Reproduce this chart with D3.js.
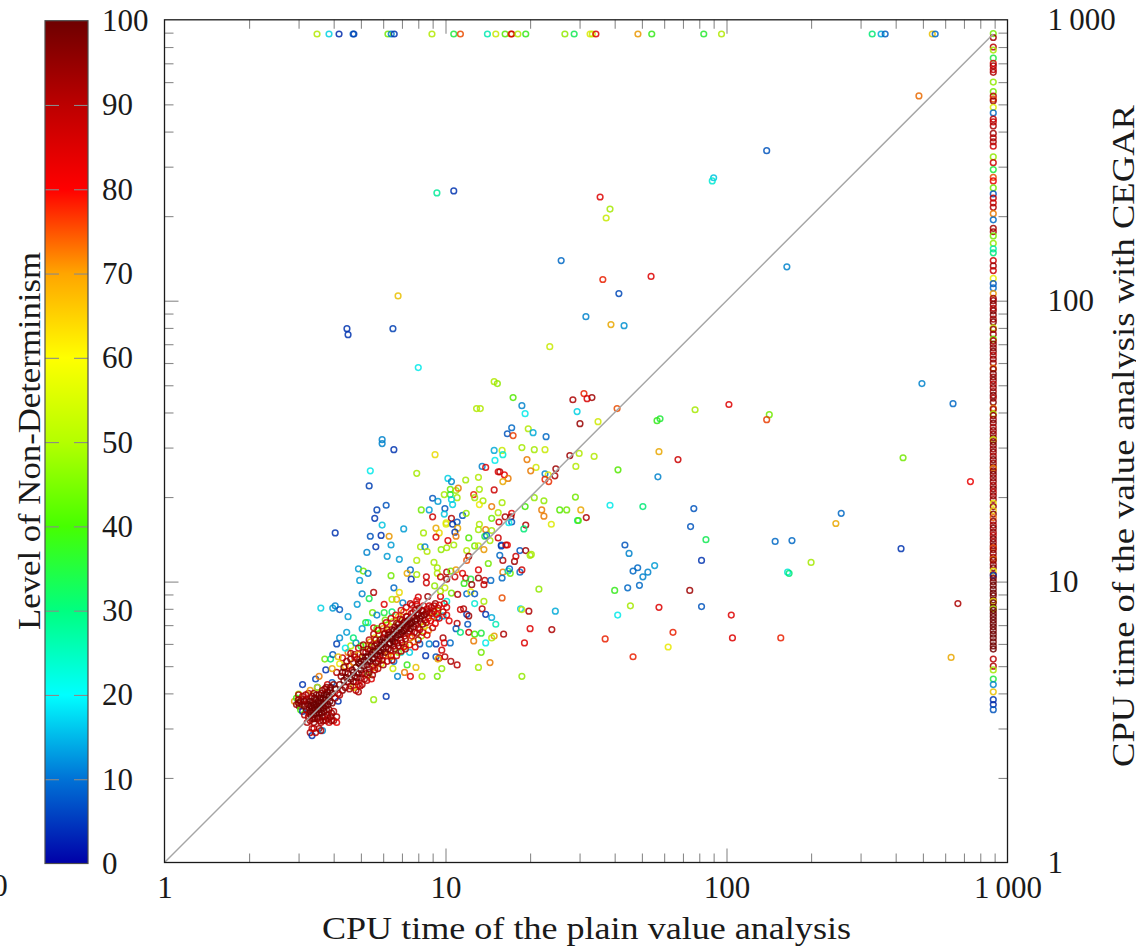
<!DOCTYPE html>
<html><head><meta charset="utf-8">
<script src="https://cdnjs.cloudflare.com/ajax/libs/d3/7.8.5/d3.min.js"></script>
<style>html,body{margin:0;padding:0;background:#fff;overflow:hidden}
svg{display:block}
text{font-family:"Liberation Serif",serif;fill:#1a1a1a}
</style></head><body><svg id="c" width="1136" height="948"></svg>
<script>
const plainTicks=[1,10,100,1000];
const cegarTicks=[1,10,100,1000];
const levelTicks=[0,10,20,30,40,50,60,70,80,90,100];
const colorStops=[0,10,20,30,40,50,60,70,80,90,100];
const colorValues=["#0000a8","#0072d6","#00ffff","#00ff80","#46ff00","#b4ff00","#ffff00","#ffa500","#ff0000","#bc0000","#6e0000"];
const xTitle="CPU time of the plain value analysis";
const yTitle="CPU time of the value analysis with CEGAR";
const barTitle="Level of Non-Determinism";
const timeoutValue=890;
// top row: [plain, level], CEGAR timed out
const topRow=[[3.49,52],[3.85,18],[4.18,4],[4.69,10],[4.72,6],[6.24,45],[6.41,12],[6.57,5],[8.95,52],[10.7,35],[11.3,75],[14.1,25],[15.1,55],[16.3,42],[17.1,72],[17.2,85],[18.1,52],[19.3,38],[26.6,48],[28.7,33],[32.7,58],[33.3,55],[34.3,82],[48.4,70],[54.2,38],[83,36],[96,52],[330,30],[355,15],[367,9],[540,65],[553,10]];
// right column: [cegar, level], plain timed out
const rightColumn=[[893,45],[865,92],[800,88],[780,50],[730,35],[700,82],[685,92],[665,85],[650,90],[600,48],[555,45],[535,88],[522,75],[515,92],[488,58],[466,10],[443,88],[433,85],[419,90],[394,92],[380,88],[368,92],[355,85],[325,48],[310,85],[293,35],[275,75],[267,80],[252,45],[240,8],[232,88],[223,85],[215,90],[204,72],[194,10],[181,92],[176,90],[170,45],[160,48],[153,25],[148,30],[139,85],[133,92],[128,85],[120,60],[115,8],[111,10],[106,70],[102,92],
[100,92],[97,96],[94,88],[92,94],[89,97],[86,90],[84,96],[80,55],[79,94],[76,92],[73,45],[72,90],[70,96],[68,92],[66,97],[64,88],[62,95],[60,92],[57.5,72],[57,94],[55,97],[53.5,92],[52,96],[50.5,88],[49,95],[47.5,92],[46,97],[45,90],[43.5,96],[41.5,72],[41,92],[39.5,50],[39,94],[37.8,92],[36.7,97],[35.5,90],[34.5,95],[33.5,92],[32.5,96],[32,55],[31.5,94],[30.6,97],[29.7,92],[28.9,95],[28,90],[27.2,97],[26.4,92],[25.6,96],[25.3,72],[24.8,94],[24.1,97],[23.4,92],[22.7,95],[22,90],[21.4,96],[20.8,88],[20.2,95],[19.6,92],[19,60],[18.5,94],[17.9,65],[17.4,96],[16.9,74],[16.4,94],[15.9,90],[15.5,96],[15,92],[14.6,88],[14.2,97],[13.8,92],[13.4,96],[13.2,75],[13,92],[12.6,95],[12.2,90],[12,72],[11.9,96],[11.5,92],[11.2,97],[10.9,60],[10.6,94],[10.5,6],[10.3,96],[10,97],[9.7,99],[9.4,98],[9.1,99],[8.9,97],[8.6,99],[8.5,60],[8.4,98],[8.1,99],[8,50],[7.9,99],[7.7,98],[7.5,99],[7.3,99],[7.1,98],[6.9,99],[6.7,98],[6.5,99],[6.3,99],[6.1,98],[5.9,99],[5.75,98],[5.3,88],[5,90],[4.85,50],[4.5,35],[4.3,12],[4.05,65],[3.8,5],[3.65,4],[3.5,8]];
const upperScatter=[[484,536,73],[139,342,8],[90,274,17],[89,267,22],[9.32,242,27],[10.7,246,5],[35.5,234,82],[38.5,212,50],[37.3,197,55],[25.8,139,10],[164,132,12],[53.9,122,82],[36.3,119,78],[41.4,106,7],[6.78,104,65],[31.6,87.7,12],[43.2,81.5,13],[38.8,82.2,68],[6.5,79.5,6],[4.46,79.5,5],[4.5,75.7,5],[23.5,68.6,55],[8,57.8,20],[14.9,51.5,52],[15.3,50.7,48],[496,50.7,12],[31.1,46.7,78],[33.2,45.2,92],[31.9,44.8,83],[28.4,44.4,90],[17.4,45.2,42],[18.7,42.3,12],[19.2,39.6,20],[29.4,40.3,18],[40.8,41.3,75],[34.9,37.1,56],[30.1,36.5,93],[77.3,40.9,50],[58,38,35],[56.6,37.4,38],[142,39.3,45],[139,37.7,76],[102,42.7,82],[12.9,41.3,52],[13.3,41.3,52],[17.2,35.3,10],[16.6,33.6,8],[17.4,33.1,76],[19.7,35,52],[20.5,33.9,15],[22.8,32.8,10],[9.18,28.3,62],[14.9,29.3,15],[15.9,29.3,55],[16,28.3,22],[15,27,20],[18.7,30,50],[20.7,29.5,50],[22.6,29.5,55],[19.5,27.2,72],[13.5,25.7,12],[13.9,25.5,82],[21,25.5,56],[20.1,24.8,72],[15.4,24.6,82],[15.6,24.6,88],[16.2,24,80],[16.7,23.3,72],[16,22.7,68],[22.6,24.2,12],[23.2,24,58],[24.7,25.2,92],[24.5,23.8,90],[22.6,23.1,78],[23.3,22.7,77],[27.7,28.1,92],[29.9,28.6,52],[33.8,27.9,52],[29.1,25.7,52],[41.1,25,42],[57.5,29,68],[67.2,27.2,85],[57,23.6,12]];
const lowerRightScatter=[[738,22.7,80],[418,13.1,5],[425,27.6,45],[640,43,10],[666,8.35,90],[630,5.37,68],[256,17.5,10],[245,16.1,68],[200,11.7,50],[165,10.8,22],[167,10.7,30],[171,14,10],[149,13.9,10],[104,7.6,82],[105,6.3,82],[156,6.3,78],[74,9.3,92],[81.5,8.15,8],[81.5,11.9,5],[76.5,18.2,8],[74.5,15.7,8],[84.5,14.1,33],[43.5,13.5,8],[45,12.6,12],[46.5,10.9,10],[48.3,11.2,10],[50.4,10.4,12],[52.5,10.8,12],[55.5,11.4,14],[49,9.7,10],[44.5,9.5,10],[40,9.3,38],[41,7.6,20],[45.5,8.2,50],[46.5,5.4,78],[64.5,6.6,78],[62,5.85,60],[57.5,8.1,82],[37,6.25,78],[29,20,45],[25.5,18,42],[27,18,45],[30.3,18,68],[31.7,16.9,90],[29.5,16.5,28],[29.7,16.5,42],[38.5,18.7,20],[50.4,18.5,30]];
const midScatter=[[5.95,32,12],[5.95,31,12],[6.55,29.5,5],[5.4,24.8,20],[7.9,24.3,50],[5.35,21.9,6],[6.15,18.7,8],[5.7,18,6],[5.6,16.8,5],[5.95,15.9,17],[7.1,15.4,14],[4.05,14.9,5],[5.4,14.5,8],[5.9,14.6,5],[6.3,14.5,70],[5.65,13.3,5],[6.4,13.5,14],[5.25,12.7,12],[6.2,12.3,14],[6.85,12,14],[4.9,11.1,14],[5.1,10.9,45],[5.3,10.7,12],[4.95,10.1,14],[5.05,9.05,12],[5.55,9.15,90],[5.35,8.7,33],[4.85,8.3,14],[3.6,8.05,18],[3.97,8.05,14],[4.05,8.2,12],[4.2,7.95,8],[4.5,7.5,14],[4.45,6.6,14],[4.2,6.3,13],[4.1,6,6],[5.05,6.8,14],[5.3,7.15,22],[5.2,7.15,35],[5.5,7.75,45],[5.7,7.6,12],[6.05,8.3,82],[6.05,7.75,35],[6.45,7.8,30],[6.55,9.5,10],[6.4,10.5,45],[6.85,9.15,62],[7.05,8.4,12],[6.7,8.65,68],[6.45,8.65,52],[7.6,8.25,85],[7.9,8.3,92],[7.5,11,10],[7.3,10.7,68],[7.55,10.2,5],[7.9,10.6,50],[7.9,11.9,52],[8.55,10.4,85],[8.55,9.9,85],[9.1,11.7,50],[9.35,11.2,50],[9.35,10.7,52],[9.6,10.4,85],[10.1,10.8,88],[10.1,10.2,92],[10.45,10.9,45],[10.9,11,70],[10.8,10.4,85],[11.5,10.7,82],[11.8,10.3,85],[11.65,9.85,38],[12.3,10.2,35],[12.4,9.75,92],[13.1,11,82],[13.1,10.3,92],[13.8,10.1,85],[13.7,9.75,88],[14.5,10.1,10],[16,10.8,72],[16.7,10.9,25],[15.9,10.3,10],[17,10.7,45],[18.4,10.8,10],[18.7,11,85],[16.9,11.1,10],[17.6,11.8,92],[17.8,12.3,85],[16,11.9,90],[14.2,11.6,45],[8.15,13.3,50],[8.45,13.3,12],[8.6,12.8,52],[9.65,13,48],[10.1,13.2,50],[10.7,13.5,50],[11.9,12.9,52],[12.7,13.4,45],[13.1,13.4,55],[13.7,13,70],[12.1,12.3,92],[11.9,11.9,75],[15.6,12.4,10],[15.8,13.5,10],[16.6,13.5,80],[18.4,12.9,8],[19.3,12.9,92],[20,12.4,50],[21.5,9.4,48],[15.9,8.75,75],[13.7,8.5,50],[12.7,8.35,22],[18.5,8,18],[18.7,7.95,55],[19.8,7.85,90],[24.6,7.85,15],[13.5,8,88],[13.9,7.65,5],[14.6,7.45,15],[15.1,7.05,25],[12,7.05,8],[11.9,7.65,5],[12.1,7.55,92],[11.3,7.95,85],[11.6,8,90],[11,7.1,88],[10.3,7.25,82],[10.9,6.8,8],[11.3,6.6,30],[12.1,6.6,85],[12.7,6.5,40],[13.4,6.55,35],[16.1,6.5,90],[14.9,6.4,70],[14.6,6.3,52],[20,6.8,82],[23.9,6.75,90],[19.1,6.05,82],[12.6,6.15,72],[13.9,6.05,20],[13.4,5.6,45],[14.4,5.15,72],[13.1,4.95,50],[18.7,4.6,48],[11,5.05,88],[10.45,5.2,90],[9.95,5.4,88],[9.7,5.7,85],[9.8,6.3,90],[9.9,6.05,82],[10.4,6.05,10],[9.25,6,5],[8.75,6,12],[8.1,6,8],[8.5,5.45,5],[9.25,5.4,8],[9.5,5.35,85],[9.4,5.3,68],[9.7,4.9,48],[7.85,4.95,65],[7.3,5.05,38],[7.15,4.75,72],[7.5,4.6,82],[6.75,4.6,12],[8.25,4.6,50],[9.35,4.6,45],[6.5,4.9,55],[6.55,5.2,10],[6.95,5.6,20],[7.45,5.6,18],[10.5,9.1,45],[11.05,9,90],[11.9,9.05,10],[12.3,9.2,60],[12.7,9.05,8],[10.1,8.5,22],[9.9,8.35,85],[10.1,8.1,82],[9.6,8.85,82],[9.15,9.65,48],[9.95,9.5,55],[9.6,9.25,50],[8.65,8.85,92],[8,8.8,85],[9.8,7.55,15],[9.35,7.45,10],[9.4,7.85,50],[5.55,6.85,85],[8.2,18,45],[8.75,18,14],[9.95,18.2,8],[9,17,85],[9.9,17.4,17],[11.5,17.2,8],[11.85,17.5,48],[10.5,16.8,90],[11,16.3,8],[10.05,16.2,58],[10.05,16,58],[10.6,16,5],[11.05,15.5,68],[9.25,15.5,68],[8.35,14.9,50],[9.5,14.9,62],[9.25,14.4,82],[10.8,15,5],[10.9,14.5,72],[10.2,14,82],[9,19.8,8],[9.4,19.3,14],[10.2,23.3,18],[10.5,22.7,12],[10.4,21.3,45],[10.4,20.4,35],[9.9,20.4,50],[10.9,21.1,50],[11.1,21.5,72],[11,19.9,50],[10.5,19.6,18],[10.6,18.8,18],[11.8,23,50],[13.1,23.5,52],[13.2,21.3,50],[12.6,20.4,78],[12.7,19.9,50],[13.6,19.4,50],[13.2,18.8,60],[15.9,19.1,50],[14.6,18.5,72],[15.4,17.6,52],[17.2,17.5,80],[16.3,17,90],[17.1,17,92],[17.2,16.3,8],[16.8,16.2,20],[15.5,16.3,85],[14.6,16.8,45],[19.2,18.5,40],[22.4,19.4,48],[22,18,72],[22.4,17.1,72],[20.7,19.9,48],[19.3,15.9,90],[19,15.4,30],[23.8,16,58],[13.2,16,52],[13.1,15.3,50],[13.9,15.3,72],[14.6,15.2,50],[12.1,14.3,42],[13.8,14.5,35],[14,14.6,10],[14.4,14,50],[15.4,14.3,85],[15.8,13.4,5],[16.4,13.5,85],[20.2,12.5,50],[14.9,21.2,85]];
const periphery=[[3.1,4.3,5],[3,3.98,50],[3.45,4.5,6],[3.55,4.6,72],[3.5,4.2,8],[3.95,4.37,8],[4.15,3.75,5],[3.75,4.85,5],[3.72,5.3,45],[3.9,5.3,30],[3.97,5.5,8],[4.9,4.05,90],[4.97,4.25,88],[5.45,4.5,82],[5.55,3.8,48],[6.15,3.9,5],[4.3,5.35,85],[4.5,5.6,72],[4.2,5.1,60],[4.6,5.9,52],[4.4,5.8,20],[4.8,6.05,12],[4.75,5.5,90],[4.1,4.75,88],[3.95,4.9,68],[4.15,5.4,65],[4.7,6.3,30],[4.4,5,68],[4.7,4.2,58],[4.9,5.5,65],[5.2,5.9,58],[5.4,6.1,70],[5.6,6.3,62],[5.8,6.5,52],[6,6.8,68],[6.2,7,60],[6.5,7.2,55],[6.8,7.5,65],[7.1,7.8,72],[5.3,4.65,45],[5.6,4.95,70],[5.9,5.1,58],[6.4,5.4,65],[6.8,5.6,48],[7.2,5.9,55],[7.7,6.1,62],[8.2,6.4,50],[8.7,6.7,72],[6.1,7.3,45],[5.7,6.8,42],[5,5.9,38]];
const bandEdge=[[4.6,5.55,90],[4.9,5.8,85],[5.1,5.95,92],[5.35,6.2,88],[5.55,6.5,90],[5.75,6.7,86],[5.95,6.95,90],[6.15,7.15,84],[6.4,7.4,88],[6.65,7.6,82],[6.95,7.9,86],[7.25,8.1,82],[7.5,8.35,88],[7.9,8.55,80],[4.8,4.1,88],[5.05,4.3,90],[5.25,4.45,86],[5.5,4.65,92],[5.75,4.9,88],[6,5.05,92],[6.2,5.2,86],[6.45,5.25,90],[6.7,5.45,85],[6.95,5.65,90],[7.2,5.75,88],[7.45,5.95,85],[7.8,5.85,82],[8,6.2,90],[8.3,6.6,86],[8.6,6.45,82],[9,6.85,88],[9.2,7.1,80],[9.5,7.4,85],[9.8,7.8,88],[10.1,7.6,82]];
const bandCluster=[[4.2,4.3,95],[4.25,4.6,92],[4.3,4.1,96],[4.35,4.45,98],[4.4,4.75,90],[4.4,4.2,94],[4.5,4.4,97],[4.5,4.7,95],[4.55,5,82],[4.6,4.5,98],[4.6,4.25,88],[4.65,4.85,96],[4.7,5.15,70],[4.75,4.6,97],[4.8,4.4,92],[4.8,4.95,98],[4.85,5.3,85],[4.9,4.7,96],[4.95,5.1,98],[5,4.55,90],[5,4.85,97],[5.05,5.4,92],[5.1,5,99],[5.15,5.25,96],[5.2,4.7,85],[5.2,5.6,88],[5.25,5.05,98],[5.3,5.4,99],[5.35,4.9,94],[5.4,5.7,90],[5.4,5.2,98],[5.45,5.5,97],[5.5,5,90],[5.5,5.85,52],[5.55,5.35,99],[5.6,5.65,98],[5.65,5.15,92],[5.7,6,92],[5.7,5.5,97],[5.75,5.8,99],[5.8,5.3,88],[5.85,6.2,96],[5.9,5.6,98],[5.9,5.95,99],[6,6.3,94],[6,5.45,85],[6,5.75,97],[6.05,6.05,99],[6.1,6.55,85],[6.15,5.85,98],[6.2,6.25,97],[6.25,5.5,72],[6.3,6.6,92],[6.3,6,96],[6.35,6.35,99],[6.4,5.7,88],[6.45,6.75,90],[6.5,6.15,98],[6.5,6.5,99],[6.55,5.9,92],[6.6,6.9,94],[6.65,6.3,97],[6.7,6.65,98],[6.75,6.05,90],[6.8,7.05,96],[6.85,6.45,98],[6.9,6.8,99],[6.95,6.2,85],[7,7.3,92],[7,6.6,97],[7.05,7,99],[7.1,5.85,82],[7.15,6.4,92],[7.2,7.2,96],[7.25,6.8,98],[7.3,7.5,88],[7.35,6.55,90],[7.4,7,97],[7.45,7.35,95],[7.5,6.3,72],[7.5,6.8,96],[7.55,7.7,85],[7.6,7.15,98],[7.7,7.5,96],[7.75,6.6,92],[7.8,7.9,88],[7.85,7.05,95],[7.9,7.35,97],[8,7.7,98],[8,6.85,85],[8.05,8.05,92],[8.15,7.2,90],[8.2,7.55,96],[8.3,7.85,94],[8.35,8.2,82],[8.4,6.95,58],[8.45,7.3,92],[8.5,7.7,95],[8.6,8,88],[8.7,7.4,85],[8.8,7.75,92],[8.9,8.1,88],[9,7.5,70],[9.1,7.85,88],[9.2,8.35,92],[9.4,8.05,85]];
const bandFill=[[4.3,4.75,97],[4.35,4.95,96],[4.45,5.2,92],[4.45,4.55,98],[4.55,4.15,90],[4.6,5.3,94],[4.7,4.75,98],[4.7,4.4,96],[4.75,5.4,88],[4.85,4.55,97],[4.9,5.15,98],[4.9,4.3,85],[5,5.2,99],[5.05,4.7,96],[5.1,5.6,95],[5.15,4.5,90],[5.2,5.4,99],[5.3,5.2,99],[5.3,5.75,93],[5.35,4.75,94],[5.45,5.9,92],[5.5,5.3,99],[5.5,5.6,99],[5.6,4.85,88],[5.6,5.9,96],[5.65,6.2,90],[5.75,5.2,95],[5.8,5.65,99],[5.85,5.45,98],[5.95,6.1,99],[5.95,5.25,90],[6.05,6.5,92],[6.1,5.6,97],[6.2,6.75,90],[6.25,5.75,96],[6.25,6.45,98],[6.35,6.05,98],[6.4,5.45,86],[6.45,6.25,99],[6.55,6.7,97],[6.6,5.75,94],[6.6,6.1,99],[6.7,7.1,92],[6.75,6.45,99],[6.8,5.9,90],[6.85,6.85,98],[6.9,7.35,88],[6.95,6.5,98],[7,6.05,94],[7.1,7.15,97],[7.1,6.7,99],[7.2,6.25,90],[7.25,7.5,90],[7.3,6.9,98],[7.35,7.25,97],[7.45,6.65,95],[7.5,7.1,99],[7.6,6.4,85],[7.65,7.75,90],[7.7,6.9,96],[7.8,7.25,98],[7.9,6.55,88],[7.95,7.6,97],[8.1,7.4,96],[8.1,6.75,90],[8.25,7.9,92],[8.3,7.05,94],[8.4,7.6,96],[8.55,7.15,88],[8.6,7.8,92],[8.75,8.2,86],[8.85,7.25,82],[8.95,7.7,90],[9.1,8.2,88],[9.3,7.65,80],[9.5,8.25,84]];
const lowerBlob=[[2.9,3.75,70],[2.95,3.85,40],[2.95,3.65,92],[3,3.8,95],[3,3.95,90],[3.02,3.6,92],[3.05,3.75,96],[3.05,3.5,40],[3.1,3.9,88],[3.1,3.45,5],[3.3,2.9,90],[3.35,2.83,5],[3.4,3,92],[3.45,2.9,88],[3.55,3,90],[3.65,2.95,12],[3.6,2.95,90],[3.35,3,85],[3.2,3.5,96],[3.2,3.8,94],[3.25,3.3,92],[3.25,3.65,98],[3.25,4,88],[3.3,3.2,90],[3.3,3.45,98],[3.3,3.75,99],[3.3,4.1,70],[3.35,3.55,99],[3.35,3.9,96],[3.4,3.15,92],[3.4,3.35,99],[3.4,3.65,99],[3.4,4,92],[3.45,3.5,99],[3.45,3.8,98],[3.5,3.25,96],[3.5,3.6,99],[3.5,4.2,55],[3.55,3.4,98],[3.55,3.7,99],[3.55,3.95,96],[3.6,3.15,88],[3.6,3.5,98],[3.6,3.85,99],[3.65,3.3,96],[3.65,3.65,99],[3.65,4.1,90],[3.7,3.45,97],[3.7,3.95,98],[3.75,3.2,90],[3.75,3.6,98],[3.75,3.8,99],[3.8,3.35,92],[3.8,4.05,98],[3.8,4.3,85],[3.85,3.15,85],[3.85,3.5,94],[3.85,3.9,99],[3.9,3.3,95],[3.9,4.2,97],[3.95,3.7,96],[3.95,4,99],[4,3.2,92],[4,3.45,88],[4,4.3,95],[4.05,3.85,90],[4.05,4.15,98],[4.1,3.3,90],[4.1,3.15,80],[4.15,4,92],[4.2,3.95,88]];
const blobFill=[[3.27,3.55,97],[3.27,3.4,96],[3.27,3.75,95],[3.32,3.62,99],[3.32,3.35,97],[3.37,3.45,98],[3.37,3.72,99],[3.37,3.25,95],[3.42,3.55,99],[3.42,3.85,97],[3.42,3.25,96],[3.47,3.4,98],[3.47,3.65,99],[3.47,3.95,95],[3.52,3.5,99],[3.52,3.75,99],[3.52,3.3,97],[3.57,3.6,99],[3.57,3.85,98],[3.57,3.2,93],[3.62,3.4,98],[3.62,3.7,99],[3.62,4,96],[3.67,3.55,99],[3.67,3.85,99],[3.67,3.2,92],[3.72,3.3,96],[3.72,3.7,98],[3.72,4.15,94],[3.77,3.5,96],[3.77,3.95,99],[3.77,4.2,93],[3.82,3.65,97],[3.82,3.25,90],[3.88,3.75,98],[3.88,4.1,97],[3.93,3.4,94],[3.93,3.2,92],[3,3.7,96],[3.08,3.65,94],[3.12,3.8,92],[3.15,3.6,95],[3.15,3.75,96],[3.18,3.95,90],[3.15,3.35,88],[3.22,3.15,90]];

const svg=d3.select("#c");
const x=d3.scaleLog().domain([1,1000]).range([164.5,1007.5]);
const y=d3.scaleLog().domain([1,1000]).range([862.5,19.8]);
const lv=d3.scaleLinear().domain([0,100]).range([863.5,20.7]);
const color=d3.scaleLinear().domain(colorStops).range(colorValues).clamp(true);
const FS=31;
const minors=[];
[1,10,100].forEach(d=>{for(let k=2;k<=9;k++)minors.push(d*k)});
const majors=[10,100];
function ticks(axis,tx,ty){
  const g=svg.append("g").attr("transform",`translate(${tx},${ty})`).call(axis);
  g.select(".domain").remove();
  g.selectAll("line").attr("stroke","#8a8a8a").attr("stroke-width",1.1);
  g.selectAll("text").remove();
  return g;
}
const defs=svg.append("defs");
const soft=defs.append("filter").attr("id","soft").attr("x","-1%").attr("y","-1%").attr("width","102%").attr("height","102%");
soft.append("feGaussianBlur").attr("stdDeviation",0.4);
const grad=defs.append("linearGradient").attr("id","jet").attr("x1",0).attr("x2",0).attr("y1",1).attr("y2",0);
colorStops.forEach((s,i)=>grad.append("stop").attr("offset",s/100).attr("stop-color",colorValues[i]));
svg.append("rect").attr("x",45).attr("y",lv(100)).attr("width",43).attr("height",lv(0)-lv(100)).attr("fill","url(#jet)");
const barMid=levelTicks.slice(1,-1);
ticks(d3.axisRight(lv).tickValues(barMid).tickSize(14).tickFormat(""),45,0);
ticks(d3.axisLeft(lv).tickValues(barMid).tickSize(14).tickFormat(""),88,0);
svg.append("rect").attr("x",45).attr("y",lv(100)).attr("width",43).attr("height",lv(0)-lv(100)).attr("fill","none").attr("stroke","#4d4d4d").attr("stroke-width",1.2);
const labelAxis=g=>{g.select(".domain").remove();g.selectAll("text").attr("font-size",FS).attr("font-family","Liberation Serif").attr("fill","#1a1a1a");};
svg.append("g").attr("transform","translate(88,0)").call(d3.axisRight(lv).tickValues(levelTicks).tickSize(0).tickPadding(14).tickFormat(d3.format("d"))).call(labelAxis);
ticks(d3.axisTop(x).tickValues(minors).tickSize(9).tickFormat(""),0,862.5);
ticks(d3.axisTop(x).tickValues(majors).tickSize(14).tickFormat(""),0,862.5);
ticks(d3.axisBottom(x).tickValues(minors).tickSize(9).tickFormat(""),0,19.8);
ticks(d3.axisBottom(x).tickValues(majors).tickSize(14).tickFormat(""),0,19.8);
ticks(d3.axisRight(y).tickValues(minors).tickSize(9).tickFormat(""),164.5,0);
ticks(d3.axisRight(y).tickValues(majors).tickSize(14).tickFormat(""),164.5,0);
ticks(d3.axisLeft(y).tickValues(minors).tickSize(9).tickFormat(""),1007.5,0);
ticks(d3.axisLeft(y).tickValues(majors).tickSize(14).tickFormat(""),1007.5,0);
const marks=svg.append("g").attr("filter","url(#soft)");
function drawMarks(data){
  marks.append("g").selectAll("circle").data(data).join("circle")
    .attr("cx",d=>x(d[0])).attr("cy",d=>y(d[1])).attr("r",2.85)
    .attr("fill","none").attr("stroke",d=>d3.color(color(d[2])).darker(0.25).formatHex()).attr("stroke-width",1.5).attr("stroke-opacity",.85);
}
drawMarks(topRow.map(d=>[d[0],timeoutValue,d[1]]));
drawMarks(rightColumn.map(d=>[timeoutValue,d[0],d[1]]));
[upperScatter,lowerRightScatter,midScatter,periphery,bandEdge,bandCluster,bandFill,lowerBlob,blobFill].forEach(drawMarks);
svg.append("line").attr("x1",x(1)).attr("y1",y(1)).attr("x2",x(timeoutValue)).attr("y2",y(timeoutValue)).attr("stroke","#a6a6a6").attr("stroke-width",1.5);
svg.append("rect").attr("x",164.5).attr("y",19.8).attr("width",843).attr("height",842.7).attr("fill","none").attr("stroke","#1a1a1a").attr("stroke-width",1.3);
const fmt=d=>d===1000?"1\u2009000":String(d);
svg.append("g").attr("transform","translate(0,862.5)").call(d3.axisBottom(x).tickValues(plainTicks).tickSize(0).tickPadding(13).tickFormat(fmt)).call(labelAxis);
svg.append("g").attr("transform","translate(1007.5,0)").call(d3.axisRight(y).tickValues(cegarTicks).tickSize(0).tickPadding(40).tickFormat(fmt)).call(labelAxis);
svg.append("text").attr("x",0).attr("y",896).attr("text-anchor","middle").attr("font-size",FS).text("0");
svg.append("text").attr("x",586.5).attr("y",939).attr("text-anchor","middle").attr("font-size",FS).attr("textLength",529).attr("lengthAdjust","spacingAndGlyphs").text(xTitle);
svg.append("text").attr("transform","translate(40,441) rotate(-90)").attr("text-anchor","middle").attr("font-size",FS).attr("textLength",378).attr("lengthAdjust","spacingAndGlyphs").text(barTitle);
svg.append("text").attr("transform","translate(1134,436) rotate(-90)").attr("text-anchor","middle").attr("font-size",FS).attr("textLength",662).attr("lengthAdjust","spacingAndGlyphs").text(yTitle);
</script></body></html>
